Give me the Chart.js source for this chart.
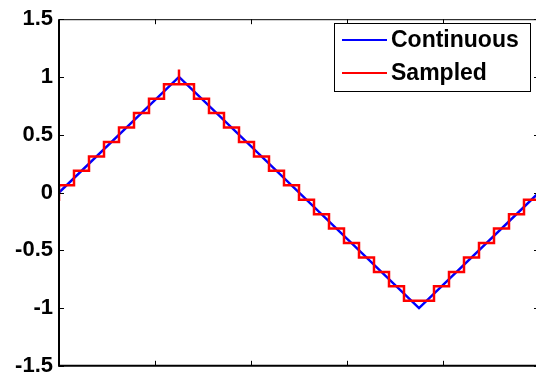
<!DOCTYPE html>
<html>
<head>
<meta charset="utf-8">
<script src="https://cdn.jsdelivr.net/npm/chart.js@4/dist/chart.umd.min.js"></script>
<style>
html, body { margin: 0; padding: 0; overflow: hidden; background: #fff; }
#wrap { width: 541px; height: 385px; }
</style>
</head>
<body>
<div id="wrap"><canvas id="plot"></canvas></div>
<script>
// x axis in sample periods (32 samples per period of the triangle)
var contX = [0, 8, 24, 32];
var contY = [0, 1, -1, 0];

// held samples (extra points at 8 give the spike at the peak)
var sampX = [-0.5, 0.5, 1.5, 2.5, 3.5, 4.5, 5.5, 6.5, 7.5, 8, 8, 8, 8.5, 9.5, 10.5, 11.5, 12.5, 13.5, 14.5, 15.5,
    16.5, 17.5, 18.5, 19.5, 20.5, 21.5, 22.5, 23.5, 24.5, 25.5, 26.5, 27.5, 28.5, 29.5, 30.5, 31.5, 32.5];
var sampY = [-0.0625, 0.0625, 0.1875, 0.3125, 0.4375, 0.5625, 0.6875, 0.8125, 0.9375, 0.9375, 1.065, 0.9375,
    0.9375, 0.8125, 0.6875, 0.5625, 0.4375, 0.3125, 0.1875, 0.0625,
    -0.0625, -0.1875, -0.3125, -0.4375, -0.5625, -0.6875, -0.8125, -0.9375,
    -0.9375, -0.8125, -0.6875, -0.5625, -0.4375, -0.3125, -0.1875, -0.0625, 0.0625];

var xTicks = [0, 6.4, 12.8, 19.2, 25.6, 32];
var yTicks = [-1.5, -1, -0.5, 0, 0.5, 1, 1.5];
var yTickLabels = ["-1.5", "-1", "-0.5", "0", "0.5", "1", "1.5"];
var seriesNames = ["Continuous", "Sampled"];

var FONT = "'Liberation Sans', Arial, sans-serif";

function toPoints(xs, ys) {
    return xs.map(function (x, i) { return { x: x, y: ys[i] }; });
}

// axes box with inward ticks, matlab style
var framePlugin = {
    id: 'frame',
    afterDatasetsDraw: function (chart) {
        var ctx = chart.ctx;
        var a = chart.chartArea;
        var xs = chart.scales.x, ys = chart.scales.y;
        var len = 5;
        ctx.save();
        ctx.strokeStyle = '#000';
        ctx.lineWidth = 1;
        xTicks.forEach(function (v) {
            var px = Math.round(xs.getPixelForValue(v)) + 0.5;
            ctx.beginPath();
            ctx.moveTo(px, a.bottom); ctx.lineTo(px, a.bottom - len);
            ctx.moveTo(px, a.top); ctx.lineTo(px, a.top + len);
            ctx.stroke();
        });
        yTicks.forEach(function (v) {
            var py = Math.round(ys.getPixelForValue(v)) + 0.5;
            ctx.beginPath();
            ctx.moveTo(a.left, py); ctx.lineTo(a.left + len, py);
            ctx.moveTo(a.right, py); ctx.lineTo(a.right - len, py);
            ctx.stroke();
        });
        ctx.beginPath();
        ctx.moveTo(a.left, a.top + 0.5); ctx.lineTo(a.right, a.top + 0.5);
        ctx.moveTo(a.right - 0.5, a.top); ctx.lineTo(a.right - 0.5, a.bottom);
        ctx.stroke();
        ctx.lineWidth = 2;
        ctx.beginPath();
        ctx.moveTo(a.left, a.top); ctx.lineTo(a.left, a.bottom);
        ctx.lineTo(a.right, a.bottom);
        ctx.stroke();
        ctx.restore();
    }
};

// legend box in the upper right corner
var legendBox = {
    id: 'legendBox',
    afterDraw: function (chart) {
        var ctx = chart.ctx;
        var bx = 334.5, by = 23.5, bw = 196, bh = 68;
        ctx.save();
        ctx.fillStyle = '#fff';
        ctx.fillRect(bx, by, bw, bh);
        ctx.strokeStyle = '#000';
        ctx.lineWidth = 1;
        ctx.strokeRect(bx, by, bw, bh);
        ctx.font = 'bold 23px ' + FONT;
        ctx.textBaseline = 'middle';
        ctx.fillStyle = '#000';
        chart.data.datasets.forEach(function (ds, i) {
            var y = 40 + i * 33;
            ctx.strokeStyle = ds.borderColor;
            ctx.lineWidth = 2;
            ctx.beginPath();
            ctx.moveTo(342, y); ctx.lineTo(387, y);
            ctx.stroke();
            ctx.fillText(ds.label, 391, y + 1);
        });
        ctx.restore();
    }
};

new Chart(document.getElementById('plot'), {
    type: 'line',
    data: {
        datasets: [
            {
                label: seriesNames[0],
                data: toPoints(contX, contY),
                borderColor: 'rgb(0,0,255)',
                borderWidth: 2.5,
                pointRadius: 0,
                fill: false,
                order: 1
            },
            {
                label: seriesNames[1],
                data: toPoints(sampX, sampY),
                borderColor: 'rgb(255,0,0)',
                borderWidth: 2.5,
                pointRadius: 0,
                fill: false,
                stepped: 'middle',
                order: 0
            }
        ]
    },
    options: {
        responsive: true,
        maintainAspectRatio: false,
        animation: false,
        layout: { padding: { left: 0, top: 15, right: 2, bottom: 10 } },
        plugins: {
            legend: { display: false },
            tooltip: { enabled: false }
        },
        scales: {
            x: {
                type: 'linear',
                min: 0,
                max: 32,
                grid: { display: false, drawTicks: false },
                border: { display: false },
                ticks: { display: false },
                afterFit: function (s) { s.height = 0; }
            },
            y: {
                min: -1.5,
                max: 1.5,
                grid: { display: false, drawTicks: false },
                border: { display: false },
                afterBuildTicks: function (s) {
                    s.ticks = yTicks.map(function (v) { return { value: v }; });
                },
                ticks: {
                    color: '#000',
                    padding: 6,
                    font: { family: FONT, size: 22, weight: 'bold' },
                    callback: function (v, i) { return yTickLabels[i]; }
                },
                afterFit: function (s) { s.width = 59; }
            }
        }
    },
    plugins: [framePlugin, legendBox]
});
</script>
</body>
</html>
